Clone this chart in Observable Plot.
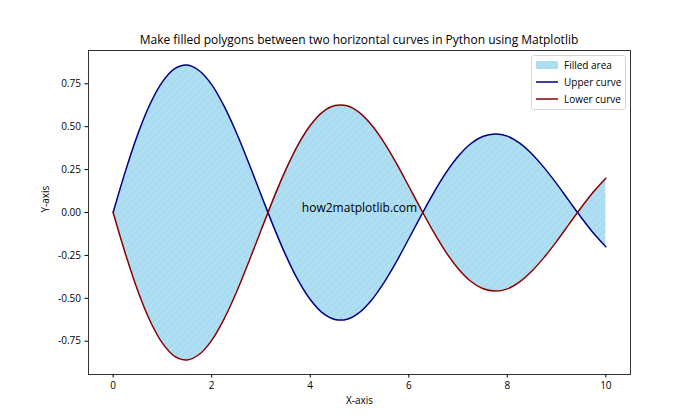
<!DOCTYPE html>
<html>
<head>
<meta charset="utf-8">
<script src="https://cdn.jsdelivr.net/npm/d3@7"></script>
<script src="https://cdn.jsdelivr.net/npm/@observablehq/plot@0.6"></script>
<style>
  body { margin: 0; background: #fff; }
  #wrap { position: relative; width: 700px; height: 420px; font-family: "Open Sans", sans-serif; color: #000; }
  #title { height: 46px; box-sizing: border-box; padding-top: 33px; line-height: 14px; font-size: 12px; text-align: center; padding-left: 18px; }
  #legend { position: absolute; left: 531px; top: 55px; width: 95px; height: 55px; border: 1px solid #d6d6d6; border-radius: 3px; background: rgba(255,255,255,0.8); font-size: 10px; box-sizing: border-box; }
  .row { position: absolute; left: 4px; height: 14px; display: flex; align-items: center; white-space: nowrap; }
  .sw { width: 22px; margin-right: 6px; }
</style>
</head>
<body>
<div id="wrap">
  <div id="title">Make filled polygons between two horizontal curves in Python using Matplotlib</div>
  <div id="chart"></div>
  <div id="legend">
    <div class="row" style="top:2px"><svg class="sw" width="22" height="8"><defs><pattern id="lh" width="5" height="5" patternUnits="userSpaceOnUse" patternTransform="rotate(45)"><rect width="5" height="5" fill="#a9dcf1"/><line x1="0" y1="0" x2="0" y2="5" stroke="#c4e7f5" stroke-width="1.2"/></pattern></defs><rect width="22" height="8" fill="url(#lh)"/></svg><span>Filled area</span></div>
    <div class="row" style="top:19px"><svg class="sw" width="22" height="8"><line x1="0" y1="4" x2="22" y2="4" stroke="#000080" stroke-width="1.5"/></svg><span>Upper curve</span></div>
    <div class="row" style="top:36px"><svg class="sw" width="22" height="8"><line x1="0" y1="4" x2="22" y2="4" stroke="#8b0000" stroke-width="1.5"/></svg><span>Lower curve</span></div>
  </div>
</div>
<script>
const xValues = [0, 0.25, 0.5, 0.75, 1, 1.25, 1.5, 1.75, 2, 2.25, 2.5, 2.75, 3, 3.25, 3.5, 3.75, 4, 4.25, 4.5, 4.75, 5, 5.25, 5.5, 5.75, 6, 6.25, 6.5, 6.75, 7, 7.25, 7.5, 7.75, 8, 8.25, 8.5, 8.75, 9, 9.25, 9.5, 9.75, 10];
const upperCurve = [0, 0.241, 0.456, 0.632, 0.761, 0.838, 0.859, 0.826, 0.745, 0.621, 0.466, 0.290, 0.105, -0.078, -0.247, -0.393, -0.507, -0.585, -0.623, -0.622, -0.582, -0.508, -0.407, -0.286, -0.153, -0.018, 0.112, 0.229, 0.326, 0.399, 0.443, 0.458, 0.445, 0.404, 0.341, 0.260, 0.168, 0.069, -0.029, -0.121, -0.200];
const lowerCurve = [0, -0.241, -0.456, -0.632, -0.761, -0.838, -0.859, -0.826, -0.745, -0.621, -0.466, -0.290, -0.105, 0.078, 0.247, 0.393, 0.507, 0.585, 0.623, 0.622, 0.582, 0.508, 0.407, 0.286, 0.153, 0.018, -0.112, -0.229, -0.326, -0.399, -0.443, -0.458, -0.445, -0.404, -0.341, -0.260, -0.168, -0.069, 0.029, 0.121, 0.200];
const xTicks = [0, 2, 4, 6, 8, 10];
const yTicks = [-0.75, -0.5, -0.25, 0, 0.25, 0.5, 0.75];
const watermark = "how2matplotlib.com";

const data = xValues.map((x, i) => ({x, upper: upperCurve[i], lower: lowerCurve[i]}));

const hatchDefs = () => {
  const ns = "http://www.w3.org/2000/svg";
  const defs = document.createElementNS(ns, "defs");
  defs.innerHTML = '<pattern id="hatch" width="5" height="5" patternUnits="userSpaceOnUse" patternTransform="rotate(45)"><rect width="5" height="5" fill="#a9dcf1"/><line x1="0" y1="0" x2="0" y2="5" stroke="#c4e7f5" stroke-width="1.2"/></pattern>';
  return defs;
};

const chart = Plot.plot({
  width: 700,
  height: 374,
  marginTop: 4,
  marginBottom: 46,
  marginLeft: 88,
  marginRight: 70,
  style: {fontFamily: "'Open Sans', sans-serif", fontSize: "10px", color: "#000", background: "transparent"},
  x: {domain: [-0.5, 10.5], ticks: xTicks, tickSize: 3.5, tickPadding: 4, label: null},
  y: {domain: [-0.944, 0.944], ticks: yTicks, tickSize: 3.5, tickPadding: 4, label: null, tickFormat: d => d.toFixed(2)},
  marks: [
    hatchDefs,
    Plot.areaY(data, {x: "x", y1: "upper", y2: "lower", fill: "url(#hatch)", curve: "catmull-rom"}),
    Plot.line(data, {x: "x", y: "upper", stroke: "#000080", strokeWidth: 1.5, curve: "catmull-rom"}),
    Plot.line(data, {x: "x", y: "lower", stroke: "#8b0000", strokeWidth: 1.5, curve: "catmull-rom"}),
    Plot.text([watermark], {x: 5, y: 0, text: d => d, fontSize: 12, fill: "#000", dy: -4}),
    Plot.frame({stroke: "#000", strokeWidth: 0.8}),
    Plot.axisX({ticks: xTicks, tickSize: 3.5, tickPadding: 4, label: null}),
    Plot.axisY({ticks: yTicks, tickSize: 3.5, tickPadding: 4, label: null, tickFormat: d => d.toFixed(2)}),
    Plot.text(["X-axis"], {x: 5, frameAnchor: "bottom", dy: 29, text: d => d, fontSize: 10}),
    Plot.text(["Y-axis"], {y: 0, frameAnchor: "left", dx: -43, rotate: -90, text: d => d, fontSize: 10})
  ]
});
document.getElementById("chart").appendChild(chart);
</script>
</body>
</html>
